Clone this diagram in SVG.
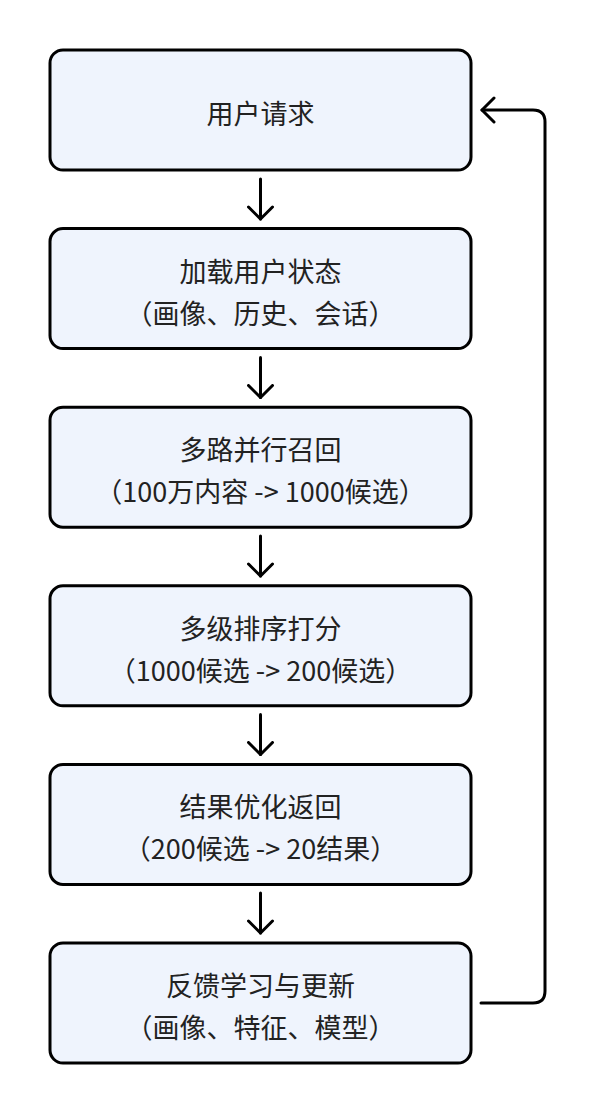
<svg xmlns="http://www.w3.org/2000/svg" width="601" height="1113" viewBox="0 0 601 1113">
  <defs>
    <style>
      .box { fill: #eff4fd; stroke: #000; stroke-width: 3; }
      .label { font-family: "Noto Sans CJK SC", "Noto Sans", sans-serif; font-size: 27px; fill: #222; text-anchor: middle; dominant-baseline: central; }
      .edge { fill: none; stroke: #000; stroke-width: 3; stroke-linecap: round; stroke-linejoin: round; }
    </style>
    <marker id="arrow" viewBox="0 0 16 28" refX="14" refY="14" markerWidth="16" markerHeight="28" markerUnits="userSpaceOnUse" orient="auto">
      <path d="M2,2 L14,14 L2,26" fill="none" stroke="#000" stroke-width="3" stroke-linecap="round" stroke-linejoin="round"/>
    </marker>
  </defs>

  <rect width="601" height="1113" fill="#fff"/>

  <g id="connectors">
    <line class="edge" x1="260.5" y1="179" x2="260.5" y2="219" marker-end="url(#arrow)"/>
    <line class="edge" x1="260.5" y1="357.5" x2="260.5" y2="397.5" marker-end="url(#arrow)"/>
    <line class="edge" x1="260.5" y1="536" x2="260.5" y2="576" marker-end="url(#arrow)"/>
    <line class="edge" x1="260.5" y1="714.5" x2="260.5" y2="754.5" marker-end="url(#arrow)"/>
    <line class="edge" x1="260.5" y1="893" x2="260.5" y2="933" marker-end="url(#arrow)"/>
    <path class="edge" d="M481,1003 H533 Q545,1003 545,991 V122 Q545,110 533,110 H482" marker-end="url(#arrow)"/>
  </g>

  <g id="node-request">
    <rect class="box" x="50" y="50" width="421" height="120" rx="13"/>
    <text class="label" x="260.5" y="112.5">用户请求</text>
  </g>
  <g id="node-load-state">
    <rect class="box" x="50" y="228.6" width="421" height="120" rx="13"/>
    <text class="label" x="260.5" y="270">加载用户状态</text>
    <text class="label" x="260.5" y="312">（画像、历史、会话）</text>
  </g>
  <g id="node-recall">
    <rect class="box" x="50" y="407.2" width="421" height="120" rx="13"/>
    <text class="label" x="260.5" y="448.6">多路并行召回</text>
    <text class="label" x="260.5" y="490.6">（100万内容 -&gt; 1000候选）</text>
  </g>
  <g id="node-ranking">
    <rect class="box" x="50" y="585.8" width="421" height="120" rx="13"/>
    <text class="label" x="260.5" y="627.2">多级排序打分</text>
    <text class="label" x="260.5" y="669.2">（1000候选 -&gt; 200候选）</text>
  </g>
  <g id="node-rerank">
    <rect class="box" x="50" y="764.4" width="421" height="120" rx="13"/>
    <text class="label" x="260.5" y="805.8">结果优化返回</text>
    <text class="label" x="260.5" y="847.8">（200候选 -&gt; 20结果）</text>
  </g>
  <g id="node-feedback">
    <rect class="box" x="50" y="943" width="421" height="120" rx="13"/>
    <text class="label" x="260.5" y="984.4">反馈学习与更新</text>
    <text class="label" x="260.5" y="1026.4">（画像、特征、模型）</text>
  </g>
</svg>
